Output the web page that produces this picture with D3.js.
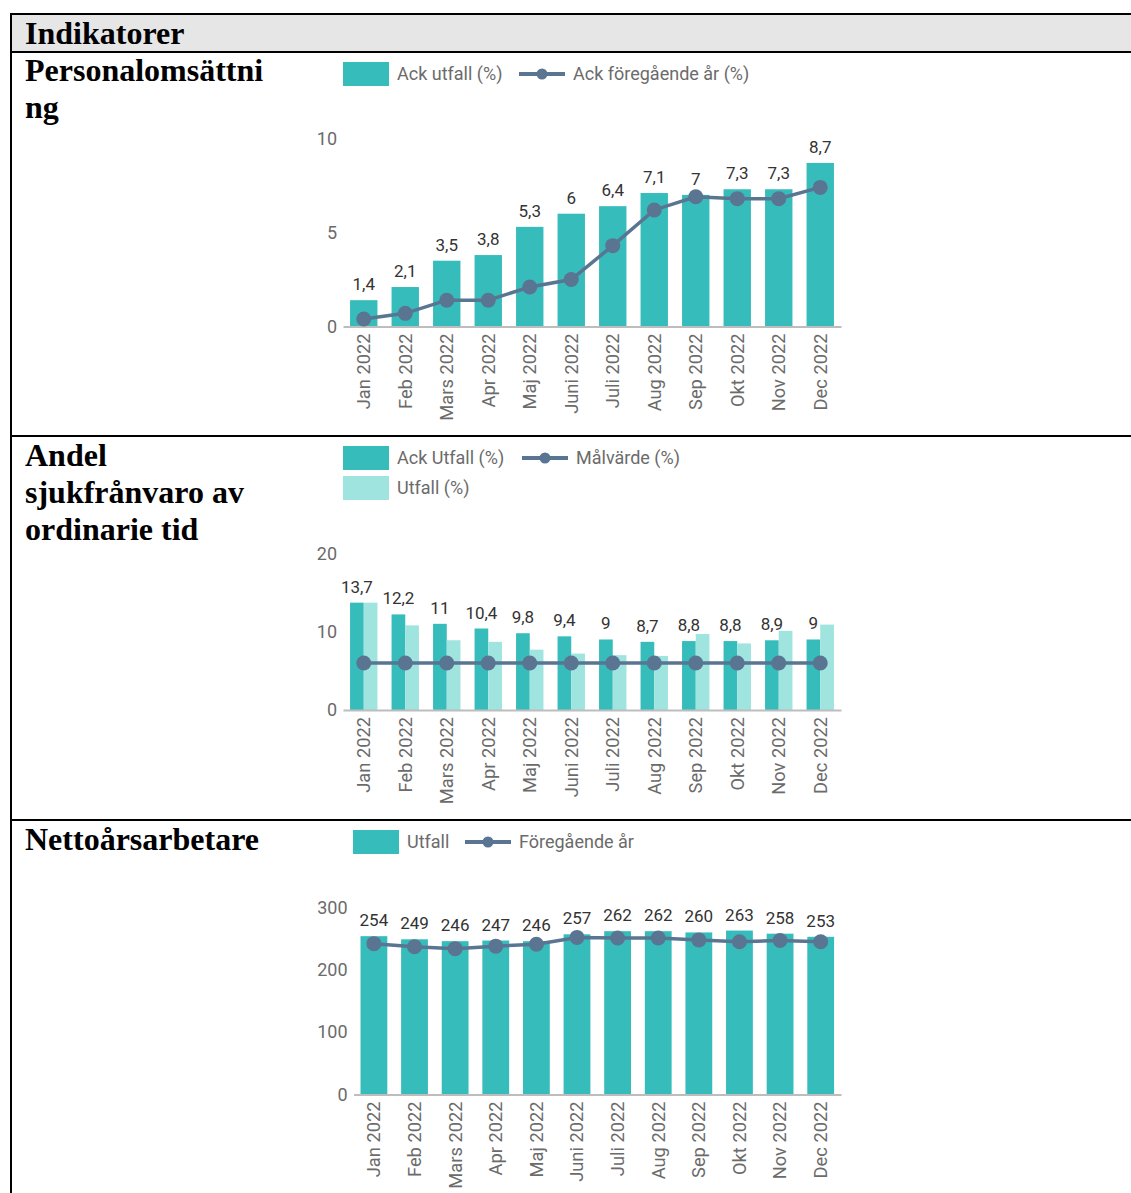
<!DOCTYPE html>
<html>
<head>
<meta charset="utf-8">
<script src="https://cdn.jsdelivr.net/npm/d3@7"></script>
<style>
    body { margin: 0; background: #fff; }
    svg { display: block; }
    .rowTitle { font-family: "Liberation Serif", "Times New Roman", serif; font-weight: bold; font-size: 32px; fill: #000; }
    .tick text, .legendText { font-family: Roboto, sans-serif; fill: #6b6b6b; }
    .valueLabel { font-family: Roboto, sans-serif; font-size: 17px; fill: #333; }
</style>
</head>
<body>
<div id="page"></div>
<script>

// * * * data * * *
let months = ["Jan 2022", "Feb 2022", "Mars 2022", "Apr 2022", "Maj 2022", "Juni 2022",
    "Juli 2022", "Aug 2022", "Sep 2022", "Okt 2022", "Nov 2022", "Dec 2022"];

// Personalomsättning
let turnoverAck = [1.4, 2.1, 3.5, 3.8, 5.3, 6, 6.4, 7.1, 7, 7.3, 7.3, 8.7];
let turnoverPrevYear = [0.4, 0.7, 1.4, 1.4, 2.1, 2.5, 4.3, 6.2, 6.9, 6.8, 6.8, 7.4];
let turnoverTicks = [0, 5, 10];

// Andel sjukfrånvaro
let sickAck = [13.7, 12.2, 11, 10.4, 9.8, 9.4, 9, 8.7, 8.8, 8.8, 8.9, 9];
let sickMonth = [13.7, 10.8, 8.9, 8.7, 7.7, 7.2, 7.0, 6.9, 9.7, 8.5, 10.1, 10.9];
let sickTarget = [6, 6, 6, 6, 6, 6, 6, 6, 6, 6, 6, 6];
let sickTicks = [0, 10, 20];

// Nettoårsarbetare
let fteValue = [254, 249, 246, 247, 246, 257, 262, 262, 260, 263, 258, 253];
let ftePrevYear = [242, 237, 234, 238, 241, 252, 251, 251, 248, 245, 247, 245];
let fteTicks = [0, 100, 200, 300];

const TEAL = "#37bcbc";
const LIGHT = "#9fe4de";
const SLATE = "#5a7591";

let sv = d3.formatLocale({decimal: ",", thousands: " ", grouping: [3], currency: ["", " kr"]});
let fmt = sv.format("~f");

let svg = d3.select("#page").append("svg")
    .attr("width", 1131)
    .attr("height", 1193);

// * * * table frame * * *
svg.append("rect")
    .attr("x", 12).attr("y", 15)
    .attr("width", 1119).attr("height", 36)
    .attr("fill", "#e6e6e6");

[14, 52, 436, 820].forEach(y => {
    svg.append("line")
        .attr("x1", 10).attr("x2", 1131)
        .attr("y1", y).attr("y2", y)
        .attr("stroke", "#000").attr("stroke-width", 2);
});
svg.append("line")
    .attr("x1", 11).attr("x2", 11)
    .attr("y1", 13).attr("y2", 1193)
    .attr("stroke", "#000").attr("stroke-width", 2);

let titles = [
    {lines: ["Indikatorer"], y: 44},
    {lines: ["Personalomsättni", "ng"], y: 81},
    {lines: ["Andel", "sjukfrånvaro av", "ordinarie tid"], y: 466},
    {lines: ["Nettoårsarbetare"], y: 850}
];
titles.forEach(t => {
    t.lines.forEach((line, i) => {
        svg.append("text")
            .attr("class", "rowTitle")
            .attr("x", 25)
            .attr("y", t.y + i * 37)
            .text(line);
    });
});

// * * * charts * * *
function drawLegend(items) {
    items.forEach(d => {
        let g = svg.append("g").attr("transform", `translate(${d.x}, ${d.y})`);
        if (d.type === "bar") {
            g.append("rect")
                .attr("x", 0).attr("y", -12)
                .attr("width", 46).attr("height", 24)
                .attr("fill", d.color);
        } else {
            g.append("line")
                .attr("x1", 0).attr("x2", 46)
                .attr("y1", 0).attr("y2", 0)
                .attr("stroke", d.color).attr("stroke-width", 4);
            g.append("circle")
                .attr("cx", 23).attr("cy", 0).attr("r", 5.5)
                .attr("fill", d.color);
        }
        g.append("text")
            .attr("class", "legendText")
            .attr("x", 54).attr("y", 0)
            .attr("dy", "0.35em")
            .style("font-size", "18px")
            .text(d.label);
    });
}

function drawChart(cfg) {
    let x = d3.scaleBand()
        .domain(months)
        .range([cfg.left, cfg.right])
        .paddingInner(0.34)
        .paddingOuter(0.17);

    let y = d3.scaleLinear()
        .domain(cfg.domain)
        .range([cfg.bottom, cfg.top]);

    let g = svg.append("g");

    // bars
    if (cfg.bars2) {
        let half = x.bandwidth() / 2;
        g.selectAll(".barA").data(cfg.bars).enter().append("rect")
            .attr("x", (d, i) => x(months[i]))
            .attr("y", d => y(d))
            .attr("width", half)
            .attr("height", d => y(0) - y(d))
            .attr("fill", TEAL);
        g.selectAll(".barB").data(cfg.bars2).enter().append("rect")
            .attr("x", (d, i) => x(months[i]) + half)
            .attr("y", d => y(d))
            .attr("width", half)
            .attr("height", d => y(0) - y(d))
            .attr("fill", LIGHT);
    } else {
        g.selectAll(".bar").data(cfg.bars).enter().append("rect")
            .attr("x", (d, i) => x(months[i]))
            .attr("y", d => y(d))
            .attr("width", x.bandwidth())
            .attr("height", d => y(0) - y(d))
            .attr("fill", TEAL);
    }

    // axes
    let xAxis = g.append("g")
        .attr("transform", `translate(0, ${cfg.bottom})`)
        .call(d3.axisBottom(x).tickSize(0).tickPadding(0));
    xAxis.select(".domain").attr("stroke", "#bdbdbd").attr("stroke-width", 2);
    xAxis.selectAll(".tick text")
        .style("font-size", "18.3px")
        .attr("transform", "rotate(-90)")
        .attr("text-anchor", "end")
        .attr("x", -7)
        .attr("y", 0)
        .attr("dy", "0.35em");

    let yAxis = g.append("g")
        .attr("transform", `translate(${cfg.left}, 0)`)
        .call(d3.axisLeft(y).tickValues(cfg.ticks).tickSize(0).tickPadding(6).tickFormat(fmt));
    yAxis.select(".domain").remove();
    yAxis.selectAll(".tick text").style("font-size", "18px");

    // line
    let cx = (d, i) => x(months[i]) + x.bandwidth() / 2;
    g.append("path")
        .datum(cfg.line)
        .attr("fill", "none")
        .attr("stroke", SLATE)
        .attr("stroke-width", 3.5)
        .attr("d", d3.line().x(cx).y(d => y(d)));
    g.selectAll(".dot").data(cfg.line).enter().append("circle")
        .attr("cx", cx)
        .attr("cy", d => y(d))
        .attr("r", 7.5)
        .attr("fill", SLATE);

    // value labels
    let labelX = cfg.bars2
        ? (d, i) => x(months[i]) + x.bandwidth() / 4
        : cx;
    g.selectAll(".valueLabel").data(cfg.bars).enter().append("text")
        .attr("class", "valueLabel")
        .attr("x", labelX)
        .attr("y", d => y(d) - 10)
        .attr("text-anchor", "middle")
        .text(d => fmt(d));
}

drawLegend([
    {type: "bar", color: TEAL, label: "Ack utfall (%)", x: 343, y: 74},
    {type: "line", color: SLATE, label: "Ack föregående år (%)", x: 519, y: 74}
]);
drawChart({
    left: 343, right: 841, top: 138.5, bottom: 326.5,
    domain: [0, 10], ticks: turnoverTicks,
    bars: turnoverAck, line: turnoverPrevYear
});

drawLegend([
    {type: "bar", color: TEAL, label: "Ack Utfall (%)", x: 343, y: 458},
    {type: "line", color: SLATE, label: "Målvärde (%)", x: 522, y: 458},
    {type: "bar", color: LIGHT, label: "Utfall (%)", x: 343, y: 488}
]);
drawChart({
    left: 343, right: 841, top: 553.3, bottom: 710,
    domain: [0, 20], ticks: sickTicks,
    bars: sickAck, bars2: sickMonth, line: sickTarget
});

drawLegend([
    {type: "bar", color: TEAL, label: "Utfall", x: 353, y: 842},
    {type: "line", color: SLATE, label: "Föregående år", x: 465, y: 842}
]);
drawChart({
    left: 353.6, right: 841, top: 907.5, bottom: 1094.5,
    domain: [0, 300], ticks: fteTicks,
    bars: fteValue, line: ftePrevYear
});

</script>
</body>
</html>
